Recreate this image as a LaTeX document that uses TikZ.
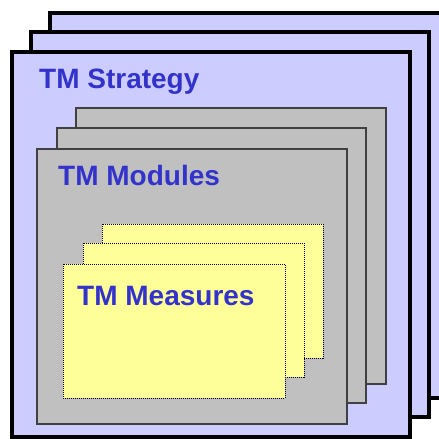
\documentclass[tikz,border=0pt]{standalone}
\usepackage{xcolor}
\usepackage{fontspec}
\setmainfont{Liberation Sans}
\usepackage{tikz}
\usetikzlibrary{positioning}

\definecolor{stratfill}{HTML}{CCCCFF}
\definecolor{modfill}{HTML}{C0C0C0}
\definecolor{measfill}{HTML}{FFFF99}
\definecolor{labelblue}{HTML}{3333CC}

\tikzset{
  stratcard/.style={fill=stratfill,draw=black,line width=4pt},
  modcard/.style={fill=modfill,draw=black!75,line width=1.5pt},
  meascard/.style={fill=measfill,draw=black,line width=1pt,dash pattern=on 1pt off 1pt},
  cardlabel/.style={anchor=base west,inner sep=0pt,text=labelblue,font=\fontsize{28}{33}\selectfont\bfseries}
}

\begin{document}
\begin{tikzpicture}[x=1pt,y=-1pt]

\useasboundingbox (0,0) rectangle (439,439);

% --- Strategy cards ---
\draw[stratcard] (50,13) rectangle (448,398);
\draw[stratcard] (31,32) rectangle (429,417);
\draw[stratcard] (12,52) rectangle (410,437);

% --- Module cards ---
\draw[modcard] (76,108) rectangle (386,384);
\draw[modcard] (57,128) rectangle (366,403);
\draw[modcard] (37,149) rectangle (347,424);

% --- Measure cards ---
\draw[meascard] (102,224) rectangle (323,358);
\draw[meascard] (83,243) rectangle (304,377);
\draw[meascard] (63,264) rectangle (285,398);

% --- Labels ---
\node[cardlabel] (strat) at (39,88) {TM Strategy};
\node[cardlabel] (modules) at (58,185) {TM Modules};
\node[cardlabel] (measures) at (77,305) {TM Measures};

\end{tikzpicture}
\end{document}
